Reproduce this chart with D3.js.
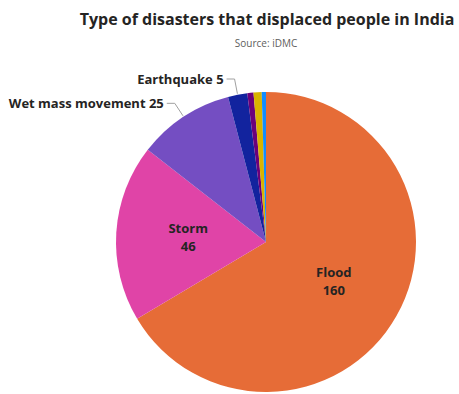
<!DOCTYPE html>
<html>
<head>
<meta charset="utf-8">
<script src="https://cdn.jsdelivr.net/npm/d3@7"></script>
<style>
  html, body { margin: 0; padding: 0; background: #fff; }
  svg { display: block; }
  text { font-family: "Open Sans", "Noto Sans", sans-serif; }
</style>
</head>
<body>
<svg id="chart" width="459" height="394"></svg>
<script>
// Displacement by disaster type (count), clockwise from 12 o'clock
const categories = ["Flood", "Storm", "Wet mass movement", "Earthquake", "Drought", "Extreme temperature", "Wildfire"];
const values = [160, 46, 25, 5, 1.6, 2.1, 1.1];
const colors = ["#E66C37", "#E044A7", "#744EC2", "#12239E", "#6B007B", "#D9B300", "#118DFF"];
// how each slice is labelled: inside, outside with a leader line, or not at all
const labelModes = ["inside", "inside", "outside", "outside", "none", "none", "none"];

const titleText = "Type of disasters that displaced people in India";
const subtitleText = "Source: iDMC";

const W = 459, H = 394;
const cx = 266, cy = 242, R = 150;

const svg = d3.select("#chart");

svg.append("text")
  .attr("x", 267).attr("y", 25)
  .attr("text-anchor", "middle")
  .attr("font-size", 16).attr("font-weight", 700)
  .attr("fill", "#252423")
  .text(titleText);

svg.append("text")
  .attr("x", 266).attr("y", 47)
  .attr("text-anchor", "middle")
  .attr("font-size", 10)
  .attr("fill", "#605E5C")
  .text(subtitleText);

const data = categories.map((c, i) => ({ name: c, value: values[i], color: colors[i], mode: labelModes[i] }));

const pie = d3.pie().sort(null).value(d => d.value);
const arcs = pie(data);
const arc = d3.arc().innerRadius(0).outerRadius(R);

const g = svg.append("g").attr("transform", `translate(${cx},${cy})`);

g.selectAll("path.slice")
  .data(arcs)
  .join("path")
  .attr("class", "slice")
  .attr("d", arc)
  .attr("fill", d => d.data.color);

const polar = (r, a) => [r * Math.sin(a), -r * Math.cos(a)];
const mid = d => (d.startAngle + d.endAngle) / 2;

// labels inside the larger slices
const inside = g.selectAll("g.inlab")
  .data(arcs.filter(d => d.data.mode === "inside"))
  .join("g")
  .attr("class", "inlab")
  .attr("transform", d => {
    const [x, y] = polar(R * 0.52, mid(d));
    return `translate(${x},${y})`;
  });
inside.append("text")
  .attr("text-anchor", "middle").attr("y", -4)
  .attr("font-size", 13).attr("font-weight", 700).attr("fill", "#252423")
  .text(d => d.data.name);
inside.append("text")
  .attr("text-anchor", "middle").attr("y", 14)
  .attr("font-size", 13).attr("font-weight", 700).attr("fill", "#252423")
  .text(d => d3.format("d")(d.data.value));

// outside labels with leader lines
const outside = arcs.filter(d => d.data.mode === "outside");
outside.forEach(d => {
  const a = mid(d);
  const p0 = polar(R + 1, a);
  const p1 = polar(R + 16, a);
  const p2 = [p1[0] - 8, p1[1]];
  g.append("polyline")
    .attr("points", [p0, p1, p2].map(p => p.join(",")).join(" "))
    .attr("fill", "none")
    .attr("stroke", "#A0A0A0")
    .attr("stroke-width", 1);
  g.append("text")
    .attr("x", p2[0] - 3).attr("y", p2[1] + 4.5)
    .attr("text-anchor", "end")
    .attr("font-size", 13).attr("font-weight", 700).attr("fill", "#252423")
    .text(`${d.data.name} ${d3.format("d")(d.data.value)}`);
});
</script>
</body>
</html>
